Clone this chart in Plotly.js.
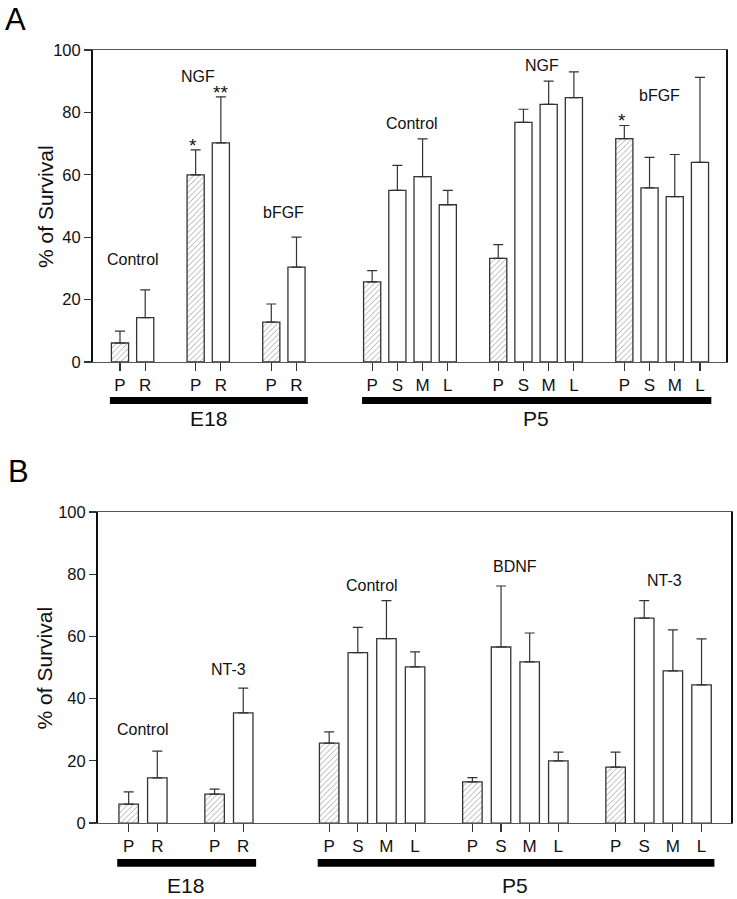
<!DOCTYPE html>
<html>
<head>
<meta charset="utf-8">
<script src="https://cdn.plot.ly/plotly-3.0.1.min.js"></script>
<style>
  html, body { margin: 0; padding: 0; background: #fff; }
  #chart { width: 737px; height: 899px; }
</style>
</head>
<body>
<div id="chart"></div>
<script>
// Panel A: E18 (Control, NGF, bFGF) and P5 (Control, NGF, bFGF)
const treatmentsA = ['Control', 'NGF', 'bFGF', 'Control', 'NGF', 'bFGF'];
const stagesA = ['E18', 'E18', 'E18', 'P5', 'P5', 'P5'];
const groupA = [0, 0, 1, 1, 2, 2, 3, 3, 3, 3, 4, 4, 4, 4, 5, 5, 5, 5];
const regionsA = ['P', 'R', 'P', 'R', 'P', 'R', 'P', 'S', 'M', 'L', 'P', 'S', 'M', 'L', 'P', 'S', 'M', 'L'];
const survivalA = [6.1, 14.2, 60.0, 70.2, 12.8, 30.4, 25.7, 55.0, 59.4, 50.4, 33.2, 76.8, 82.6, 84.7, 71.6, 55.8, 53.0, 64.0];
const semA = [3.8, 8.9, 8.0, 14.8, 5.8, 9.6, 3.6, 8.0, 12.1, 4.6, 4.4, 4.2, 7.4, 8.3, 4.2, 9.8, 13.5, 27.2];
const starsA = ['', '', '*', '**', '', '', '', '', '', '', '', '', '', '', '*', '', '', ''];

// Panel B: E18 (Control, NT-3) and P5 (Control, BDNF, NT-3)
const treatmentsB = ['Control', 'NT-3', 'Control', 'BDNF', 'NT-3'];
const stagesB = ['E18', 'E18', 'P5', 'P5', 'P5'];
const groupB = [0, 0, 1, 1, 2, 2, 2, 2, 3, 3, 3, 3, 4, 4, 4, 4];
const regionsB = ['P', 'R', 'P', 'R', 'P', 'S', 'M', 'L', 'P', 'S', 'M', 'L', 'P', 'S', 'M', 'L'];
const survivalB = [6.1, 14.5, 9.3, 35.4, 25.7, 54.8, 59.3, 50.2, 13.2, 56.6, 51.8, 20.0, 18.0, 65.9, 48.9, 44.4];
const semB = [3.9, 8.6, 1.6, 8.0, 3.6, 8.1, 12.2, 4.8, 1.4, 19.6, 9.3, 2.8, 4.8, 5.6, 13.2, 14.8];

const FONT = 'Liberation Sans, Arial, Helvetica, sans-serif';

// bar positions: one slot between treatments, two between stages
function positions(groups, stages) {
  const pos = [];
  let p = 0;
  groups.forEach((g, i) => {
    if (i > 0) {
      if (g !== groups[i - 1]) p += stages[g] !== stages[groups[i - 1]] ? 3 : 2;
      else p += 1;
    }
    pos.push(p);
  });
  return pos;
}

function barTrace(xref, yref, pos, regions, vals, sem) {
  return {
    type: 'bar',
    x: pos,
    y: vals,
    width: 0.68,
    xaxis: xref,
    yaxis: yref,
    marker: {
      color: regions.map(r => r === 'P' ? '#9a9a9a' : '#ffffff'),
      line: { color: '#333', width: 1.3 },
      pattern: {
        shape: regions.map(r => r === 'P' ? '/' : ''),
        size: 4,
        solidity: 0.2,
        bgcolor: '#e6e6e6'
      }
    },
    error_y: {
      type: 'data',
      symmetric: false,
      array: sem,
      arrayminus: sem.map(() => 0),
      color: '#333',
      thickness: 1.2,
      width: 5
    },
    hoverinfo: 'y',
    showlegend: false
  };
}

const posA = positions(groupA, stagesA);
const posB = positions(groupB, stagesB);

function xAxis(domain, pos, regions, anchor) {
  return {
    domain: domain,
    anchor: anchor,
    range: [-1.07, pos[pos.length - 1] + 1.03],
    tickvals: pos,
    ticktext: regions,
    ticks: 'outside',
    ticklen: 8,
    tickwidth: 1.2,
    tickcolor: '#333',
    tickfont: { family: FONT, size: 17, color: '#111' },
    showline: true,
    linecolor: '#555',
    linewidth: 1,
    mirror: true,
    showgrid: false,
    zeroline: false,
    fixedrange: true
  };
}

function yAxis(domain, anchor) {
  return {
    domain: domain,
    anchor: anchor,
    range: [0, 100],
    tickvals: [0, 20, 40, 60, 80, 100],
    ticks: 'outside',
    ticklen: 7,
    tickwidth: 1.2,
    tickcolor: '#333',
    tickfont: { family: FONT, size: 16.5, color: '#111' },
    showline: true,
    linecolor: '#111',
    linewidth: 2,
    mirror: true,
    showgrid: false,
    zeroline: false,
    fixedrange: true
  };
}

const shapes = [];
const annotations = [];

function decorate(xref, yref, pos, groups, treatments, stages, labelY, labelDx, stageY) {
  // treatment labels
  treatments.forEach((t, g) => {
    const idx = pos.filter((_, i) => groups[i] === g);
    const cx = (idx[0] + idx[idx.length - 1]) / 2;
    annotations.push({
      xref: xref, yref: yref, x: cx + labelDx[g], y: labelY[g],
      text: t, showarrow: false,
      font: { family: FONT, size: 16, color: '#111' }
    });
  });
  // stage bars and labels
  [...new Set(stages)].forEach(s => {
    const idx = pos.filter((_, i) => stages[groups[i]] === s);
    const first = idx[0], last = idx[idx.length - 1];
    shapes.push({
      type: 'rect', xref: xref, yref: 'paper',
      x0: first - 0.4, x1: last + 0.45,
      y0: stageY[0], y1: stageY[1],
      fillcolor: '#000', line: { width: 0 }
    });
    annotations.push({
      xref: xref, yref: 'paper', x: (first + last) / 2, y: stageY[2],
      yanchor: stageY[3],
      text: s, showarrow: false,
      font: { family: FONT, size: 21, color: '#111' }
    });
  });
  // y axis title
  annotations.push({
    xref: 'paper', yref: yref + ' domain', x: 0.061, y: 0.5,
    xanchor: 'center', yanchor: 'middle', textangle: -90,
    text: '% of Survival', showarrow: false,
    font: { family: FONT, size: 21, color: '#111' }
  });
}

decorate('x', 'y', posA, groupA, treatmentsA, stagesA,
  [33, 91.5, 48, 76.5, 95, 85.5],
  [0, -0.4, 0, 0.1, 0.25, -0.1],
  [0.5506, 0.5584, 0.535, 'middle']);
decorate('x2', 'y2', posB, groupB, treatmentsB, stagesB,
  [30, 49.5, 76.5, 82.6, 78],
  [0, 0, 0, 0, 0.2],
  [0.0358, 0.0445, 0.0, 'bottom']);

// significance marks
starsA.forEach((s, i) => {
  if (!s) return;
  annotations.push({
    xref: 'x', yref: 'y', x: posA[i] - (s === '*' ? 0.1 : 0), y: survivalA[i] + semA[i] + 1.5,
    yanchor: 'middle', text: s, showarrow: false,
    font: { family: FONT, size: 19, color: '#111' }
  });
});

// panel letters
annotations.push(
  { xref: 'paper', yref: 'paper', x: 0.004, y: 1.0, xanchor: 'left', yanchor: 'top',
    text: 'A', showarrow: false, font: { family: FONT, size: 31, color: '#000' } },
  { xref: 'paper', yref: 'paper', x: 0.008, y: 0.497, xanchor: 'left', yanchor: 'top',
    text: 'B', showarrow: false, font: { family: FONT, size: 31, color: '#000' } }
);

const data = [
  barTrace('x', 'y', posA, regionsA, survivalA, semA),
  barTrace('x2', 'y2', posB, regionsB, survivalB, semB)
];

const layout = {
  width: 737,
  height: 899,
  margin: { l: 0, r: 0, t: 0, b: 0 },
  paper_bgcolor: '#fff',
  plot_bgcolor: '#fff',
  font: { family: FONT, color: '#111' },
  bargap: 0,
  xaxis: xAxis([0.1262, 0.985], posA, regionsA, 'y'),
  yaxis: yAxis([0.5973, 0.9444], 'x'),
  xaxis2: xAxis([0.133, 0.9919], posB, regionsB, 'y2'),
  yaxis2: yAxis([0.0845, 0.4305], 'x2'),
  shapes: shapes,
  annotations: annotations
};

Plotly.newPlot('chart', data, layout, { displayModeBar: false, staticPlot: true });
</script>
</body>
</html>
